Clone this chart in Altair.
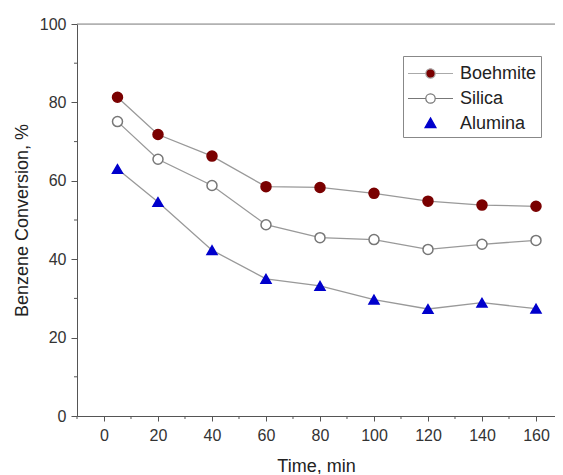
import altair as alt
import pandas as pd

series = ["Boehmite", "Silica", "Alumina"]
time = [5, 20, 40, 60, 80, 100, 120, 140, 160]
boehmite = [81.3, 71.8, 66.3, 58.5, 58.3, 56.8, 54.8, 53.8, 53.5]
silica = [75.1, 65.5, 58.8, 48.8, 45.5, 45.0, 42.5, 43.8, 44.8]
alumina = [63.0, 54.6, 42.3, 35.0, 33.2, 29.7, 27.3, 28.9, 27.4]

x_major = [0, 20, 40, 60, 80, 100, 120, 140, 160]
x_minor = [-10, 10, 30, 50, 70, 90, 110, 130, 150]
y_major = [0, 20, 40, 60, 80, 100]
y_minor = [10, 30, 50, 70, 90]

rows = []
for name, vals in zip(series, [boehmite, silica, alumina]):
    for t, v in zip(time, vals):
        rows.append({"series": name, "leg": name, "time": t, "conv": v})
df = pd.DataFrame(rows)

FONT = "Liberation Sans"
W, H = 478, 392

xscale = alt.Scale(domain=[-10, 167.04], nice=False, zero=False)
yscale = alt.Scale(domain=[0, 100], nice=False)

xaxis = alt.Axis(values=x_major, title="Time, min", titleFontSize=18, titleFontWeight="normal",
                 titleColor="#222", titlePadding=14, labelFontSize=16, labelColor="#333",
                 labelPadding=6, tickSize=5, tickColor="#555", domainColor="#555",
                 grid=False, labelFont=FONT, titleFont=FONT)
yaxis = alt.Axis(values=y_major, title="Benzene Conversion, %", titleFontSize=18,
                 titleFontWeight="normal", titleColor="#222", titlePadding=8,
                 labelFontSize=16, labelColor="#333", labelPadding=5, tickSize=6,
                 tickColor="#555", domainColor="#555", grid=False,
                 labelFont=FONT, titleFont=FONT)

# legend symbol paths (unit = 12.5 px at symbol size 625); drawn left of origin
circ_line = ("M-2.6,0L-1.176,0M-0.424,0L1,0"
             "M-0.424,0A0.376,0.376,0,1,1,-1.176,0A0.376,0.376,0,1,1,-0.424,0")
tri = "M-0.8,-0.45L-0.36,0.33L-1.24,0.33Z"

legend = alt.Legend(
    title=None, orient="none", legendX=326, legendY=32,
    strokeColor="#888", padding=4, fillColor="white",
    labelFontSize=18, labelFont=FONT, labelColor="#222", labelOffset=6,
    symbolSize=625, symbolStrokeWidth=1.2, rowPadding=2, symbolOpacity=1,
    symbolOffset=20,
)

base = alt.Chart(df)

lines = base.mark_line(color="#999999", strokeWidth=1.3).encode(
    x=alt.X("time:Q", scale=xscale, axis=xaxis),
    y=alt.Y("conv:Q", scale=yscale, axis=yaxis),
    detail="series:N",
)

points = base.mark_point(filled=True, opacity=1, strokeWidth=1.5, size=100).encode(
    x=alt.X("time:Q", scale=xscale),
    y=alt.Y("conv:Q", scale=yscale),
    shape=alt.Shape("series:N", scale=alt.Scale(domain=series, range=["circle", "circle", "triangle-up"]), legend=None),
    fill=alt.Fill("series:N", scale=alt.Scale(domain=series, range=["#7a0000", "white", "#0000cc"]), legend=None),
    stroke=alt.Stroke("series:N", scale=alt.Scale(domain=series, range=["#7a0000", "#777777", "#0000cc"]), legend=None),
)

leg_layer = base.transform_filter("false").mark_point(filled=True, opacity=1, strokeWidth=1.2, size=625).encode(
    x=alt.X("time:Q", scale=xscale),
    y=alt.Y("conv:Q", scale=yscale),
    shape=alt.Shape("leg:N", scale=alt.Scale(domain=series, range=[circ_line, circ_line, tri]), legend=legend),
    fill=alt.Fill("leg:N", scale=alt.Scale(domain=series, range=["#7a0000", "white", "#0000cc"]), legend=legend),
    stroke=alt.Stroke("leg:N", scale=alt.Scale(domain=series, range=["#aaaaaa", "#777777", "#0000cc"]), legend=legend),
)

xminor = alt.Chart(pd.DataFrame({"v": x_minor})).mark_rule(color="#555", strokeWidth=1).encode(
    x=alt.X("v:Q", scale=xscale), y=alt.value(H), y2=alt.value(H + 3))
yminor = alt.Chart(pd.DataFrame({"v": y_minor})).mark_rule(color="#555", strokeWidth=1).encode(
    y=alt.Y("v:Q", scale=yscale), x=alt.value(0), x2=alt.value(-3))
topline = alt.Chart(pd.DataFrame({"v": [100]})).mark_rule(color="#888", strokeWidth=1).encode(
    y=alt.Y("v:Q", scale=yscale), x=alt.value(0), x2=alt.value(W))

chart = alt.layer(lines, points, leg_layer, xminor, yminor, topline).resolve_scale(
    shape="independent", fill="independent", stroke="independent"
).properties(
    width=W, height=H,
    autosize=alt.AutoSizeParams(type="none"),
    padding={"left": 69, "top": 16, "right": 0, "bottom": 58},
).configure_view(stroke=None).configure(background="white")

chart.save("out.html", embed_options={"renderer": "svg", "actions": False})
